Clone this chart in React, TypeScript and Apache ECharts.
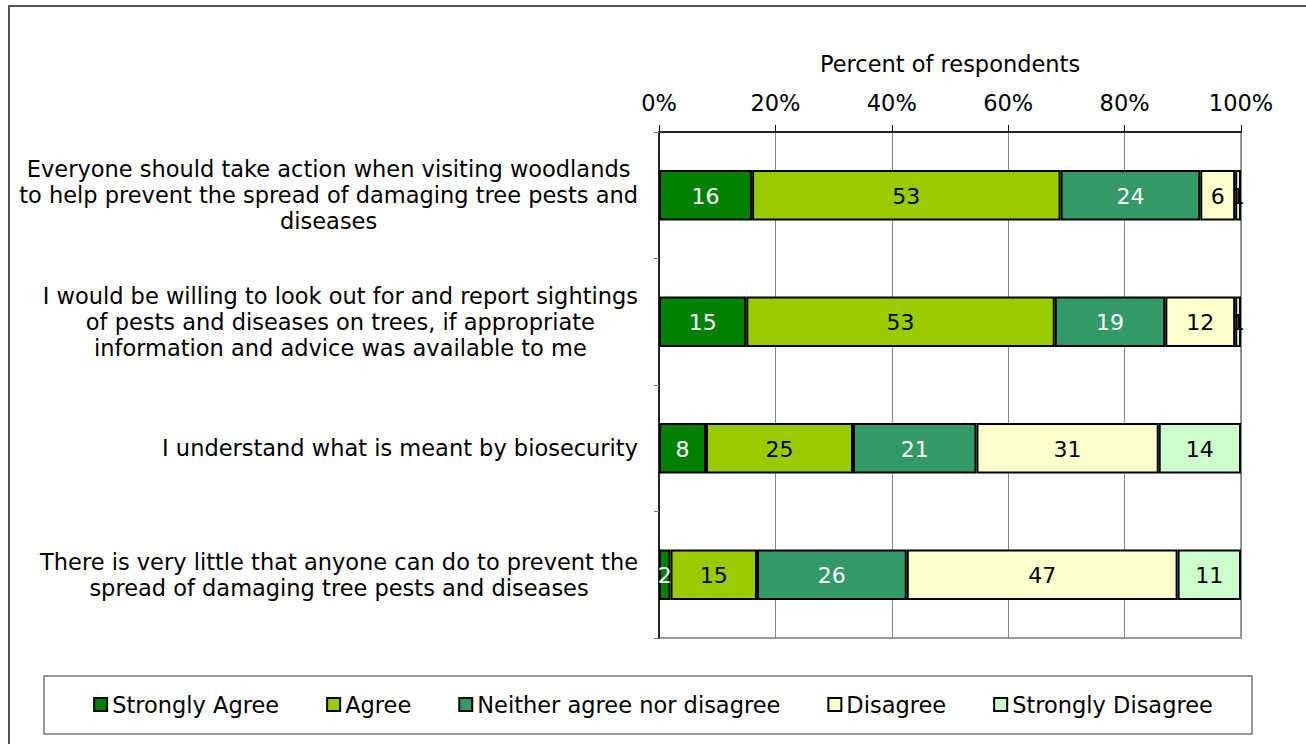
import React, { useEffect, useRef } from "react";
import * as echarts from "echarts";

const categories = [
  "Everyone should take action when visiting woodlands\nto help prevent the spread of damaging tree pests and\ndiseases",
  "I would be willing to look out for and report sightings\nof pests and diseases on trees, if appropriate\ninformation and advice was available to me",
  "I understand what is meant by biosecurity",
  "There is very little that anyone can do to prevent the\nspread of damaging tree pests and diseases",
];

const seriesNames = ["Strongly Agree", "Agree", "Neither agree nor disagree", "Disagree", "Strongly Disagree"];
const stronglyAgree = [16, 15, 8, 2];
const agree = [53, 53, 25, 15];
const neither = [24, 19, 21, 26];
const disagree = [6, 12, 31, 47];
const stronglyDisagree = [1, 1, 14, 11];

const xTicks = ["0%", "20%", "40%", "60%", "80%", "100%"];

const colors = ["#008000", "#99CC00", "#339966", "#FFFFCC", "#CCFFCC"];
const labelColors = ["#ffffff", "#000000", "#ffffff", "#000000", "#000000"];

const FONT = "'DejaVu Sans', Verdana, sans-serif";
const FS = 22.5;

export default function App() {
  const ref = useRef<HTMLDivElement>(null);
  useEffect(() => {
    if (!ref.current) return;
    const chart = echarts.init(ref.current, null, { renderer: "svg" });
    const raw = [stronglyAgree, agree, neither, disagree, stronglyDisagree];
    const sums = categories.map((_, i) => raw.reduce((s, arr) => s + arr[i], 0));
    const series = raw.map((arr, k) => ({
      name: seriesNames[k],
      type: "bar",
      stack: "total",
      barWidth: "40%",
      data: arr.map((v, i) => ({ value: (v / sums[i]) * 100, raw: v })),
      itemStyle: { color: colors[k], borderColor: "#000", borderWidth: 2 },
      label: {
        show: true,
        position: "inside",
        offset: [0, 1],
        color: labelColors[k],
        fontFamily: FONT,
        fontSize: FS - 0.5,
        formatter: (p: any) => String(p.data.raw),
      },
    }));
    chart.setOption({
      animation: false,
      textStyle: { fontFamily: FONT },
      graphic: [
        {
          type: "rect",
          shape: { x: 9, y: 6, width: 1320, height: 760 },
          style: { fill: "none", stroke: "#555", lineWidth: 2 },
          silent: true,
          z: -10,
        },
        {
          type: "rect",
          shape: { x: 44, y: 676, width: 1208, height: 58 },
          style: { fill: "none", stroke: "#777", lineWidth: 1.5 },
          silent: true,
          z: -10,
        },
      ],
      legend: {
        top: 688,
        left: "center",
        itemWidth: 13,
        itemHeight: 13,
        itemGap: 47,
        icon: "rect",
        textStyle: { fontFamily: FONT, fontSize: FS, color: "#000" },
        data: seriesNames,
      },
      grid: {
        left: 659,
        right: 65,
        top: 132,
        bottom: 106,
        show: true,
        borderColor: "#999",
        borderWidth: 2,
        backgroundColor: "transparent",
      },
      xAxis: {
        type: "value",
        position: "top",
        min: 0,
        max: 100,
        interval: 20,
        name: "Percent of respondents",
        nameLocation: "middle",
        nameGap: 57,
        nameTextStyle: { fontFamily: FONT, fontSize: FS, color: "#000" },
        axisLine: { show: true, lineStyle: { color: "#000", width: 1.5 } },
        axisTick: { show: true, length: 7, lineStyle: { color: "#000" } },
        axisLabel: {
          margin: 18,
          fontFamily: FONT,
          fontSize: FS,
          color: "#000",
          formatter: (v: number) => xTicks[Math.round(v / 20)],
        },
        splitLine: { show: true, lineStyle: { color: "#888", width: 1 } },
      },
      yAxis: {
        type: "category",
        inverse: true,
        data: categories,
        axisLine: { show: true, lineStyle: { color: "#000", width: 1.5 } },
        axisTick: { show: true, length: 5, lineStyle: { color: "#777" } },
        axisLabel: {
          margin: 21,
          color: "#000",
          fontFamily: FONT,
          fontSize: FS,
          lineHeight: 26,
          align: "right",
          formatter: (v: string) =>
            v
              .split("\n")
              .map((l) => `{c|${l}}`)
              .join("\n"),
          rich: {
            c: { align: "center", fontFamily: FONT, fontSize: FS, lineHeight: 26, color: "#000" },
          },
        },
      },
      series,
    });
    return () => chart.dispose();
  }, []);
  return (
    <div
      ref={ref}
      style={{ position: "fixed", left: 0, top: 0, width: 1306, height: 744, background: "#fff" }}
    />
  );
}
